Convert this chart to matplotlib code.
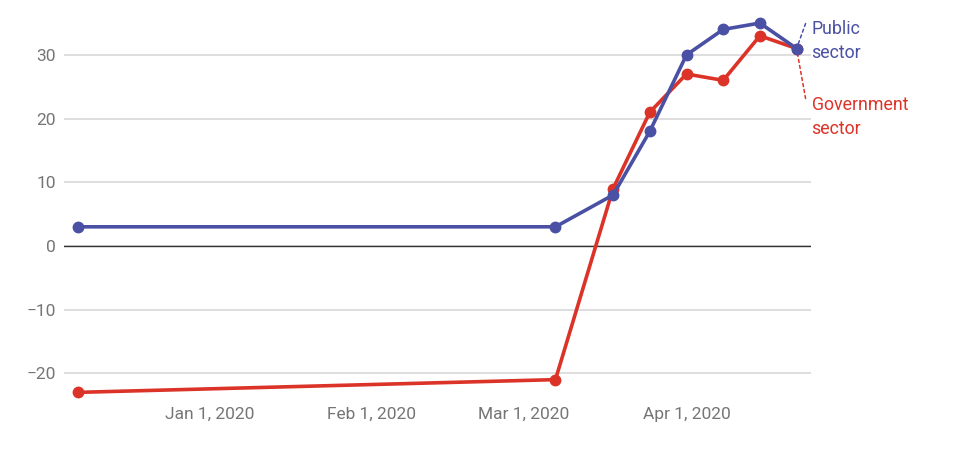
import matplotlib
matplotlib.use("Agg")
import matplotlib.pyplot as plt
import matplotlib.dates as mdates
import pandas as pd

DATES = ["2019-12-07", "2020-03-07", "2020-03-18", "2020-03-25",
         "2020-04-01", "2020-04-08", "2020-04-15", "2020-04-22"]
PUBLIC = [3, 3, 8, 18, 30, 34, 35, 31]
GOVERNMENT = [-23, -21, 9, 21, 27, 26, 33, 31]
YTICKS = [-20, -10, 0, 10, 20, 30]
XTICKS = ["2020-01-01", "2020-02-01", "2020-03-01", "2020-04-01"]

BLUE = "#4a50a3"
RED = "#dc3328"
GREY = "#757575"

plt.rcParams["font.family"] = ["Roboto", "DejaVu Sans"]

x = pd.to_datetime(DATES)
fig = plt.figure(figsize=(9.8, 4.5), dpi=100)
ax = fig.add_axes([64 / 980, 1 - 400 / 450, (811 - 64) / 980, (400 - 10) / 450])

ax.plot(x, GOVERNMENT, color=RED, lw=2.6, marker="o", ms=7.5, zorder=3, clip_on=False)
ax.plot(x, PUBLIC, color=BLUE, lw=2.6, marker="o", ms=7.5, zorder=4, clip_on=False)

ax.set_xlim(pd.Timestamp("2019-12-04 06:00"), pd.Timestamp("2020-04-24 18:00"))
ax.set_ylim(-24.2, 37.05)
ax.set_yticks(YTICKS)
ax.set_yticklabels([str(v).replace("-", "\u2212") for v in YTICKS])
ax.set_xticks(pd.to_datetime(XTICKS))
ax.xaxis.set_major_formatter(mdates.DateFormatter("%b %-d, %Y"))
ax.tick_params(length=0, labelsize=12.5, labelcolor=GREY, pad=6)
ax.tick_params(axis="x", pad=5)

ax.grid(axis="y", color="#d5d5d5", lw=1.1)
ax.set_axisbelow(True)
ax.axhline(0, color="#333333", lw=1.0, zorder=2)
for s in ax.spines.values():
    s.set_visible(False)

# end labels with dotted leaders
last = x[-1]
ax.annotate("Public\nsector", (last, PUBLIC[-1]), xytext=(15, 29), textcoords="offset pixels",
            fontsize=12.8, color=BLUE, ha="left", va="top", linespacing=1.45,
            annotation_clip=False)
ax.annotate("", (last, PUBLIC[-1]), xytext=(9, 25), textcoords="offset pixels",
            arrowprops=dict(arrowstyle="-", ls=(0, (2, 2)), color=BLUE, lw=1.1,
                            shrinkA=0, shrinkB=0), annotation_clip=False)
ax.annotate("Government\nsector", (last, GOVERNMENT[-1]), xytext=(15, -47), textcoords="offset pixels",
            fontsize=12.8, color=RED, ha="left", va="top", linespacing=1.45,
            annotation_clip=False)
ax.annotate("", (last, GOVERNMENT[-1]), xytext=(9, -50), textcoords="offset pixels",
            arrowprops=dict(arrowstyle="-", ls=(0, (2, 2)), color=RED, lw=1.1,
                            shrinkA=0, shrinkB=0), annotation_clip=False)

fig.savefig("out.png", dpi=100)
